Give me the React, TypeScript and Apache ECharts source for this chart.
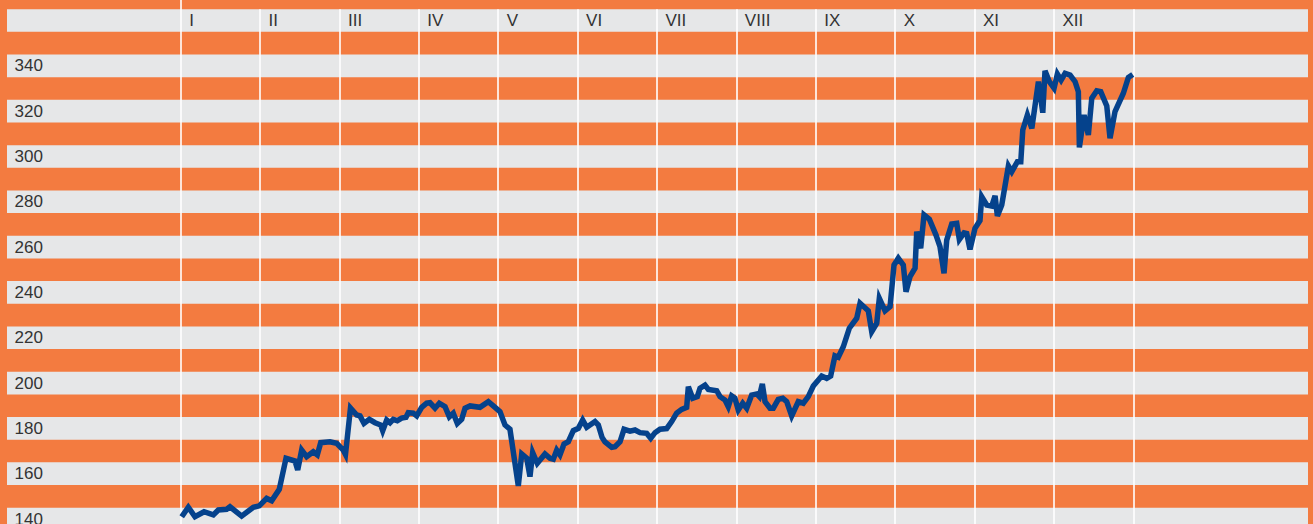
import React, { useEffect, useRef } from "react";
import * as echarts from "echarts";

// Month labels along the top (roman numerals)
const monthLabels = ["I", "II", "III", "IV", "V", "VI", "VII", "VIII", "IX", "X", "XI", "XII"];
// Month boundaries (in month units)
const monthBounds = [0, 1, 2, 3, 4, 5, 6, 7, 8, 9, 10, 11, 12];
// Y-axis tick labels
const yTicks = [140, 160, 180, 200, 220, 240, 260, 280, 300, 320, 340];
// Grey band centres (each band spans +/- 5)
const bandCentres = [140, 160, 180, 200, 220, 240, 260, 280, 300, 320, 340, 360];

// Time position (months since start of year) of each observation
const timePos = [
  0.013, 0.096, 0.18, 0.294, 0.411, 0.474, 0.579, 0.621, 0.768, 0.915, 0.99,
  1.083, 1.146, 1.242, 1.327, 1.44, 1.474, 1.524, 1.587, 1.67, 1.721, 1.764, 1.881, 1.965,
  2.048, 2.076, 2.139, 2.217, 2.259, 2.309, 2.376, 2.448, 2.52, 2.545, 2.595, 2.637, 2.678,
  2.729, 2.784, 2.838, 2.867, 2.93, 2.973,
  3.036, 3.099, 3.141, 3.204, 3.258, 3.33, 3.384, 3.434, 3.485, 3.54, 3.582, 3.645, 3.77,
  3.875, 3.938,
  4.022, 4.085, 4.148, 4.253, 4.296, 4.359, 4.4, 4.434, 4.492, 4.589, 4.652, 4.694, 4.737,
  4.778, 4.829, 4.883, 4.946,
  5.009, 5.064, 5.115, 5.219, 5.261, 5.308, 5.345, 5.43, 5.471, 5.534, 5.585, 5.66, 5.723,
  5.786, 5.87, 5.921, 5.975,
  6.038, 6.122, 6.185, 6.248, 6.311, 6.374, 6.395, 6.45, 6.508, 6.542, 6.605, 6.647, 6.752,
  6.794, 6.857, 6.898, 6.941, 6.982,
  7.024, 7.08, 7.13, 7.193, 7.256, 7.289, 7.327, 7.361, 7.424, 7.465, 7.528, 7.584, 7.634,
  7.697, 7.78, 7.843, 7.906, 7.969,
  8.075, 8.138, 8.188, 8.242, 8.284, 8.347, 8.423, 8.516, 8.558, 8.662, 8.705, 8.768, 8.801,
  8.873, 8.936, 8.986,
  9.04, 9.103, 9.137, 9.188, 9.251, 9.272, 9.322, 9.364, 9.431, 9.515, 9.565, 9.616, 9.65,
  9.713, 9.776, 9.809, 9.868, 9.902, 9.943,
  10.006, 10.069, 10.091, 10.154, 10.217, 10.259, 10.288, 10.343, 10.427, 10.469, 10.54,
  10.583, 10.608, 10.666, 10.722, 10.805, 10.86, 10.888, 10.943,
  11.002, 11.044, 11.091, 11.141, 11.204, 11.267, 11.308, 11.321, 11.38, 11.434, 11.477,
  11.54, 11.59, 11.666, 11.707, 11.77, 11.875, 11.938, 11.993,
];

const indexValues = [
  141.0, 145.2, 141.0, 143.2, 141.8, 144.0, 144.3, 145.4, 141.3, 145.2, 145.8,
  149.1, 148.1, 153.1, 166.8, 165.6, 161.6, 170.4, 167.5, 169.7, 168.3, 173.7, 174.1, 173.4,
  170.4, 168.5, 189.0, 185.9, 185.5, 182.2, 184.0, 182.5, 181.5, 179.0, 183.7, 182.5, 184.0,
  183.4, 184.5, 184.9, 186.9, 186.7, 185.5,
  189.3, 191.1, 191.3, 188.9, 191.1, 189.6, 185.1, 186.7, 182.2, 184.0, 188.9, 189.9, 189.3,
  191.8, 189.9,
  187.4, 181.5, 179.6, 154.6, 168.7, 166.8, 158.7, 169.3, 164.6, 168.7, 166.8, 166.4, 170.4,
  168.3, 173.1, 174.1, 179.0,
  180.0, 183.7, 180.5, 183.0, 181.5, 176.0, 174.0, 171.6, 171.9, 174.1, 179.6, 178.8, 179.3,
  178.1, 177.8, 175.6, 178.1,
  179.6, 179.9, 183.0, 186.7, 188.4, 189.3, 198.4, 193.3, 194.0, 197.7, 199.1, 197.2, 196.6,
  194.0, 192.5, 189.6, 194.3, 193.3,
  188.1, 191.1, 188.9, 194.7, 195.2, 194.0, 199.6, 191.8, 188.9, 188.9, 192.8, 193.3, 191.8,
  185.5, 191.8, 191.1, 194.0, 198.7,
  203.1, 202.1, 203.1, 212.0, 211.4, 216.0, 224.2, 228.6, 235.2, 231.9, 222.7, 226.4, 237.4,
  231.9, 233.7, 252.1,
  255.1, 252.1, 240.3, 247.0, 250.7, 266.8, 259.5, 274.2, 272.3, 265.3, 260.2, 248.4, 263.1,
  270.2, 270.5, 263.4, 266.3, 266.0, 259.0,
  268.3, 271.7, 282.2, 278.6, 278.1, 282.6, 273.7, 278.6, 295.8, 293.3, 297.7,
  297.7, 311.7, 318.3, 312.4, 333.0, 319.3, 337.8, 333.0,
  330.1, 336.4, 333.7, 336.7, 335.9, 333.0, 328.6, 304.0, 318.3, 309.5, 325.7,
  329.0, 328.6, 322.3, 308.0, 319.8, 327.9, 334.9, 336.2,
];

const ORANGE = "#F37B40";
const GREY = "#E6E7E8";
const BLUE = "#05428C";
const TEXT = "#333333";
const FONT = "'Liberation Sans', Arial, Helvetica, sans-serif";

const X_MIN = -2.188;
const X_MAX = 14.201;
const Y_MIN = 137.8;
const Y_MAX = 369.05;

export default function App() {
  const ref = useRef<HTMLDivElement>(null);

  useEffect(() => {
    document.body.style.margin = "0";
    if (!ref.current) return;
    const chart = echarts.init(ref.current, null, { renderer: "svg" });

    const seriesData = timePos.map((t, i) => [t, indexValues[i]]);

    const bands = bandCentres.map((c) => [{ yAxis: c - 5 }, { yAxis: c + 5 }]);

    const vLines = monthBounds.map((m, i) => [
      { coord: [m, i === 0 ? Y_MAX : bandCentres[bandCentres.length - 1] + 5] },
      { coord: [m, Y_MIN] },
    ]);

    chart.setOption({
      animation: false,
      backgroundColor: ORANGE,
      textStyle: { fontFamily: FONT },
      grid: {
        left: 7,
        right: 5,
        top: 0,
        bottom: 0,
        containLabel: false,
        outerBoundsMode: "none",
      },
      xAxis: {
        type: "value",
        position: "top",
        min: X_MIN,
        max: X_MAX,
        z: 10,
        axisLine: { show: false },
        axisTick: { show: false },
        splitLine: { show: false },
        axisLabel: {
          inside: true,
          customValues: monthBounds.slice(0, 12),
          formatter: (v: number) => monthLabels[Math.round(v)] ?? "",
          align: "left",
          verticalAlign: "middle",
          margin: 20.5,
          padding: [0, 0, 0, 8.5],
          fontSize: 17,
          color: TEXT,
          fontFamily: FONT,
        },
      },
      yAxis: {
        type: "value",
        min: Y_MIN,
        max: Y_MAX,
        z: 10,
        axisLine: { show: false },
        axisTick: { show: false },
        splitLine: { show: false },
        axisLabel: {
          inside: true,
          customValues: yTicks,
          margin: 7.5,
          fontSize: 17,
          color: TEXT,
          verticalAlign: "middle",
          fontFamily: FONT,
        },
      },
      series: [
        {
          name: "bands",
          type: "line",
          z: 1,
          silent: true,
          data: [[0, 200]],
          showSymbol: false,
          lineStyle: { width: 0, opacity: 0 },
          markArea: {
            silent: true,
            itemStyle: { color: GREY, borderWidth: 0 },
            label: { show: false },
            data: bands,
          },
        },
        {
          name: "months",
          type: "line",
          z: 2,
          silent: true,
          data: [[0, 200]],
          showSymbol: false,
          lineStyle: { width: 0, opacity: 0 },
          markLine: {
            silent: true,
            symbol: ["none", "none"],
            label: { show: false },
            lineStyle: { color: "#FFFFFF", width: 1.6, type: "solid" },
            data: vLines,
          },
        },
        {
          name: "index",
          type: "line",
          z: 5,
          data: seriesData,
          showSymbol: false,
          symbol: "none",
          lineStyle: { color: BLUE, width: 5.5, join: "miter" },
        },
      ],
    });

    return () => chart.dispose();
  }, []);

  return <div ref={ref} style={{ width: 1313, height: 524 }} />;
}
